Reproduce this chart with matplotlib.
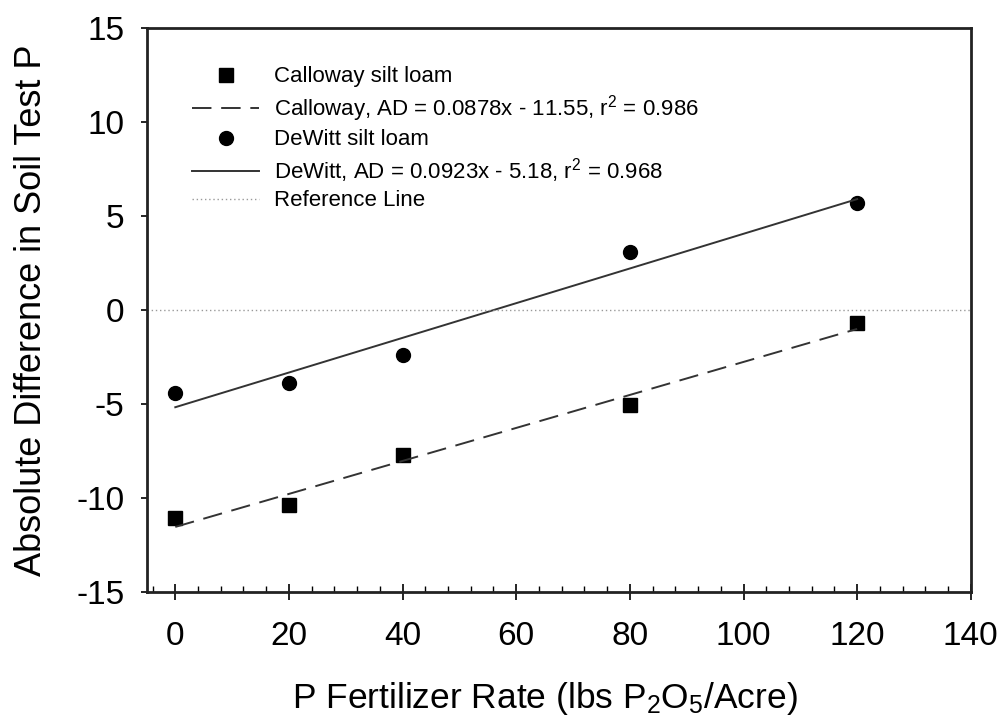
import numpy as np
import matplotlib.pyplot as plt
from matplotlib.ticker import MultipleLocator

plt.rcParams['font.family'] = ['Liberation Sans', 'DejaVu Sans']
plt.rcParams['mathtext.fontset'] = 'custom'
plt.rcParams['mathtext.rm'] = 'Liberation Sans'
plt.rcParams['mathtext.it'] = 'Liberation Sans'
plt.rcParams['axes.unicode_minus'] = False

# P rate (lbs P2O5/acre)
rate = [0, 20, 40, 80, 120]
calloway = [-11.1, -10.4, -7.7, -5.05, -0.7]
dewitt = [-4.4, -3.9, -2.4, 3.1, 5.7]

# fitted lines (slope, intercept) from the legend
cal_fit = (0.0878, -11.55)
dew_fit = (0.0923, -5.18)
fit_x = [0, 120]

fig = plt.figure(figsize=(10.06, 7.19), dpi=100)
ax = fig.add_axes([0.146, 0.177, 0.819, 0.784])

fx = np.array(fit_x)
ax.plot(rate, calloway, 's', color='black', ms=9.5, label='Calloway silt loam')
ax.plot(fx, cal_fit[0] * fx + cal_fit[1], color='#333333', lw=1.4,
        dashes=(10, 5), label=r'Calloway, AD = 0.0878x - 11.55, r$^2$ = 0.986')
ax.plot(rate, dewitt, 'o', color='black', ms=10, label='DeWitt silt loam')
ax.plot(fx, dew_fit[0] * fx + dew_fit[1], color='#333333', lw=1.4,
        label=r'DeWitt, AD = 0.0923x - 5.18, r$^2$ = 0.968')
ax.axhline(0, color='#999999', lw=1, ls=(0, (1, 2)), label='Reference Line')

ax.set_xlim(-5, 140)
ax.set_ylim(-15, 15)
ax.xaxis.set_major_locator(MultipleLocator(20))
ax.xaxis.set_minor_locator(MultipleLocator(4))
ax.yaxis.set_major_locator(MultipleLocator(5))
ax.tick_params(axis='x', which='major', direction='inout', length=12, width=1.2,
               labelsize=24, pad=15)
ax.tick_params(axis='x', which='minor', direction='in', length=4, width=1)
ax.tick_params(axis='y', which='major', direction='out', length=4, width=1.2,
               labelsize=24, pad=12)
for s in ax.spines.values():
    s.set_linewidth(2)
    s.set_color('#222222')

ax.set_xlabel(r'P Fertilizer Rate (lbs P$_\mathregular{2}$O$_\mathregular{5}$/Acre)',
              fontsize=25.5, labelpad=20)
ax.xaxis.label.set_x(0.483)
ax.set_ylabel('Absolute Difference in Soil Test P', fontsize=26, labelpad=20)

ax.legend(loc='upper left', bbox_to_anchor=(0.055, 0.932), frameon=False,
          fontsize=16, handlelength=3.0, borderaxespad=0, borderpad=0,
          labelspacing=0.25, handletextpad=0.7)

plt.savefig('out.png', dpi=100)
